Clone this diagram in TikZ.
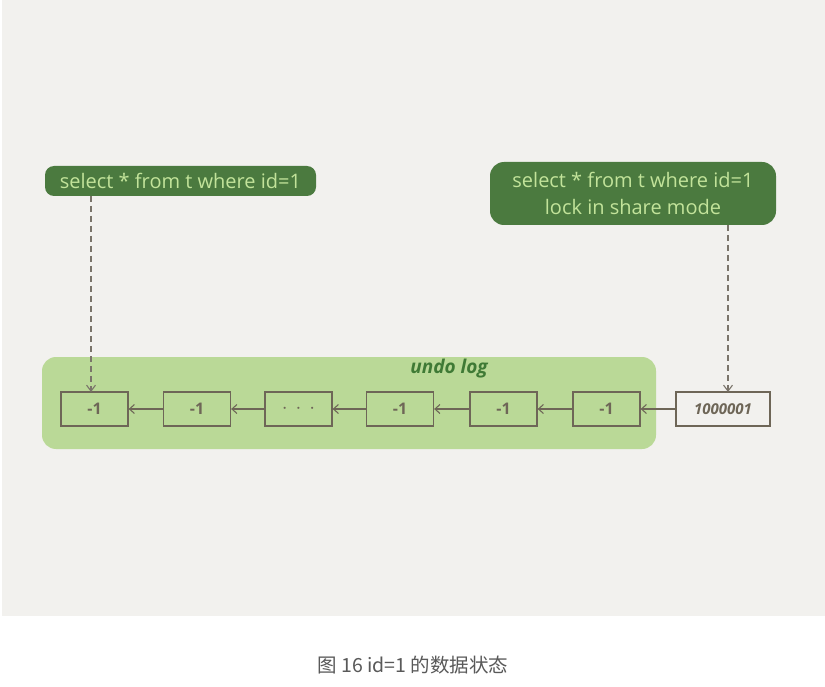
\documentclass[tikz,border=0pt]{standalone}
\usepackage{fontspec}
\setmainfont{Open Sans}
\newfontfamily\cjkfont{Noto Sans CJK SC}
\usetikzlibrary{arrows.meta}
\definecolor{bgpanel}{HTML}{F2F1EE}
\definecolor{labelgreen}{HTML}{4B7A3F}
\definecolor{labeltext}{HTML}{C2E39A}
\definecolor{undogreen}{HTML}{BAD997}
\definecolor{boxline}{HTML}{6E6657}
\definecolor{dashgrey}{HTML}{7A746A}
\definecolor{undotext}{HTML}{3F7A35}
\definecolor{captiongrey}{HTML}{595959}
\begin{document}
\begin{tikzpicture}[x=1pt,y=-1pt,
  sqlbox/.style={text=labeltext, font=\fontsize{20}{27}\selectfont, align=center, inner sep=0pt},
  rec/.style={draw=boxline, line width=1.3pt, minimum height=34pt, inner sep=0pt, font=\fontsize{16}{19}\selectfont\bfseries, text=boxline},
  link/.style={draw=boxline, line width=1.1pt, -{Straight Barb[length=5pt,width=9pt]}},
  ptr/.style={draw=dashgrey, line width=1.1pt, dash pattern=on 6pt off 4pt, -{Straight Barb[length=6pt,width=9pt]}}
]
\useasboundingbox (0,0) rectangle (825,687);
\fill[white] (0,0) rectangle (825,687);
\fill[bgpanel] (2,0) rectangle (825,616);

% undo log area
\fill[undogreen, rounded corners=14pt] (42,357) rectangle (656,449);
\node[text=undotext, font=\fontsize{19}{22}\selectfont\itshape\bfseries] (undolabel) at (449,369) {undo log};

% SQL labels
\fill[labelgreen, rounded corners=9pt] (45,166) rectangle (316,196);
\node[sqlbox] (q1) at (180.5,180.5) {select * from t where id=1};
\fill[labelgreen, rounded corners=14pt] (490,162) rectangle (776,225);
\node[sqlbox] (q2) at (633,193) {select * from t where id=1\\lock in share mode};

% records
\node[rec, minimum width=67pt] (r1) at (94.5,409) {-1};
\node[rec, minimum width=67pt] (r2) at (197,409) {-1};
\node[rec, minimum width=67pt, font=\fontsize{22}{22}\selectfont\bfseries] (r3) at (298.5,409) {$\cdot\,\cdot\,\cdot$};
\node[rec, minimum width=67pt] (r4) at (400,409) {-1};
\node[rec, minimum width=67pt] (r5) at (503.5,409) {-1};
\node[rec, minimum width=67pt] (r6) at (606.5,409) {-1};
\node[rec, minimum width=94pt, fill=bgpanel, font=\fontsize{15}{18}\selectfont\bfseries\itshape] (r7) at (723,409) {1000001};

\draw[link] (r2.west) -- (r1.east);
\draw[link] (r3.west) -- (r2.east);
\draw[link] (r4.west) -- (r3.east);
\draw[link] (r5.west) -- (r4.east);
\draw[link] (r6.west) -- (r5.east);
\draw[link] (r7.west) -- (r6.east);

% pointers
\coordinate (p1s) at (91,196);
\coordinate (p1e) at (91,392);
\coordinate (p2s) at (728,225);
\coordinate (p2e) at (728,392);
\draw[ptr] (p1s) -- (p1e);
\draw[ptr] (p2s) -- (p2e);

% caption
\node[text=captiongrey, font=\cjkfont\fontsize{19.5}{22}\selectfont] (cap) at (413,665) {图 16 id=1 的数据状态};
\end{tikzpicture}
\end{document}
